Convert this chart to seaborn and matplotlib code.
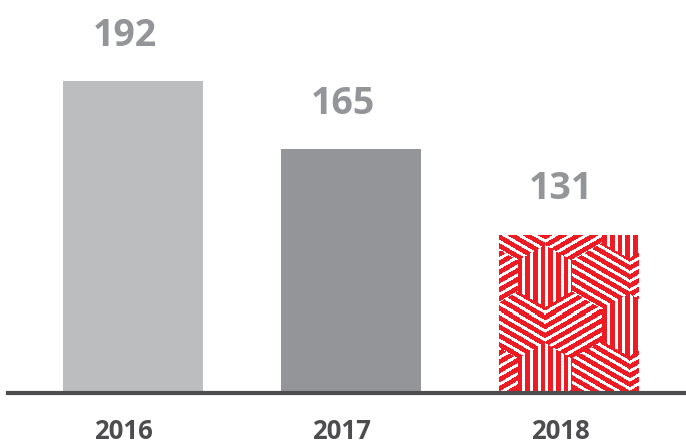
import numpy as np
import matplotlib
matplotlib.use("Agg")
import matplotlib.pyplot as plt
import matplotlib.transforms as mtransforms
import seaborn as sns
import pandas as pd

# ---- data ----
years = ["2016", "2017", "2018"]
values = [192, 165, 131]
bar_colors = ["#bcbdbf", "#939598", "#ed1c24"]
patterned = [False, False, True]

sns.set_theme(style="white")
plt.rcParams["font.family"] = ["Open Sans", "DejaVu Sans"]

W_PX, H_PX, DPI = 686, 441, 100
fig = plt.figure(figsize=(W_PX / DPI, H_PX / DPI), dpi=DPI)
ax = fig.add_axes([8 / W_PX, 48 / H_PX, 678 / W_PX, 393 / H_PX])

df = pd.DataFrame({"year": years, "value": values})
sns.barplot(data=df, x="year", y="value", hue="year", palette=bar_colors,
            width=0.64, saturation=1, legend=False, linewidth=0, ax=ax)

ax.set_xlim(-0.573, 2.537)
ax.set_ylim(68, 224.3)
ax.set_yticks([])
ax.set_xticks([])
ax.set_xlabel("")
ax.set_ylabel("")
for side in ["left", "right", "top"]:
    ax.spines[side].set_visible(False)
ax.spines["bottom"].set_linewidth(3)
ax.spines["bottom"].set_color("#4d4d4f")
ax.spines["bottom"].set_zorder(5)


def stripe_pattern(w, h, base="#ed1c24", stripe="#ffffff"):
    rows, cols = np.mgrid[0:h, 0:w].astype(float)
    X = cols + 0.5
    Y = -(rows + 0.5)
    # big lattice (centres of vertical-stripe hexagons)
    D = 97.0
    b1 = np.array([D * np.cos(np.radians(30)), D * np.sin(np.radians(30))])
    b2 = np.array([0.0, D])
    ox, oy = 46.0, -42.0
    px, py = X - ox, Y - oy
    M = np.array([[b1[0], b2[0]], [b1[1], b2[1]]])
    Minv = np.linalg.inv(M)
    u = Minv[0, 0] * px + Minv[0, 1] * py
    v = Minv[1, 0] * px + Minv[1, 1] * py
    fu, fv = np.floor(u), np.floor(v)
    best = np.full(px.shape, np.inf)
    cx = np.zeros_like(px)
    cy = np.zeros_like(py)
    for du in (0, 1):
        for dv in (0, 1):
            ccx = (fu + du) * b1[0] + (fv + dv) * b2[0]
            ccy = (fu + du) * b1[1] + (fv + dv) * b2[1]
            d2 = (px - ccx) ** 2 + (py - ccy) ** 2
            m = d2 < best
            best[m] = d2[m]
            cx[m] = ccx[m]
            cy[m] = ccy[m]
    dx, dy = px - cx, py - cy
    # inner pointy-top hexagon
    s = 31.0
    r = s * np.sqrt(3) / 2
    inside = np.ones(px.shape, bool)
    for phi in (0, 60, 120):
        a = np.radians(phi)
        inside &= np.abs(dx * np.cos(a) + dy * np.sin(a)) <= r
    ang = np.degrees(np.arctan2(dy, dx)) % 360
    sector = np.floor(((ang - 30) % 360) / 60).astype(int)
    P, wdt = 7.7, 3.0
    vert = (X % P) < wdt
    a30 = np.radians(30)
    slash = ((-X * np.sin(a30) + Y * np.cos(a30)) % P) < wdt
    back = ((X * np.sin(a30) + Y * np.cos(a30)) % P) < wdt
    diag = np.where(sector % 2 == 0, slash, back)
    white = np.where(inside, vert, diag)
    bc = np.array(matplotlib.colors.to_rgb(base))
    sc = np.array(matplotlib.colors.to_rgb(stripe))
    img = np.where(white[..., None], sc, bc)
    return img


# patterned bars
for i, (val, pat) in enumerate(zip(values, patterned)):
    if not pat:
        continue
    patch = min(ax.patches, key=lambda p: abs(p.get_x() + p.get_width() / 2 - i))
    x0 = patch.get_x()
    x1 = x0 + patch.get_width()
    y0 = ax.get_ylim()[0]
    y1 = patch.get_y() + patch.get_height()
    (px0, py0), (px1, py1) = ax.transData.transform([(x0, y0), (x1, y1)])
    w = int(round(px1 - px0))
    h = int(round(py1 - py0))
    img = stripe_pattern(w, h)
    im = ax.imshow(img, extent=(x0, x1, y0, y1), origin="upper",
                   interpolation="nearest", aspect="auto", zorder=3)
    im.set_clip_path(patch)

ax.set_xlim(-0.573, 2.537)
ax.set_ylim(68, 224.3)

# value labels
for i, val in enumerate(values):
    ax.annotate(str(val), xy=(i, val), xytext=(-5.8, 25.5),
                textcoords="offset points", ha="center", va="baseline",
                fontsize=27, fontweight="bold", color="#939598",
                annotation_clip=False)

# year labels
trans = mtransforms.blended_transform_factory(ax.transData, ax.transAxes)
for i, yr in enumerate(years):
    off = mtransforms.ScaledTranslation(-9 / DPI, -46 / DPI, fig.dpi_scale_trans)
    ax.text(i, 0, yr, transform=trans + off, ha="center", va="baseline",
            fontsize=18.5, fontweight="bold", color="#4d4d4f", clip_on=False)

fig.savefig("out.png", dpi=DPI)
